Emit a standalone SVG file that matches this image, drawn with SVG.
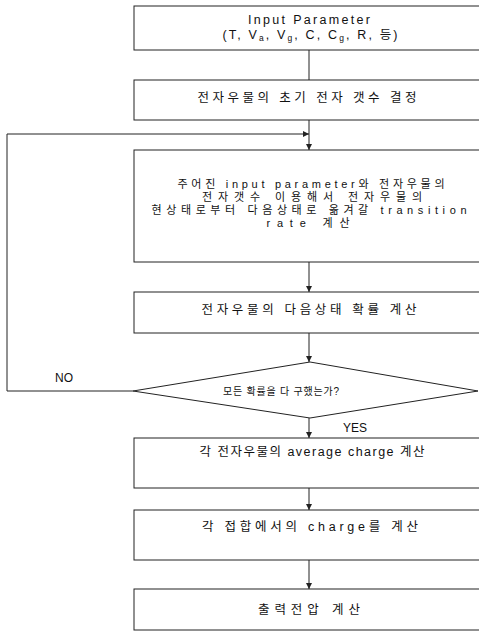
<svg xmlns="http://www.w3.org/2000/svg" width="479" height="632" viewBox="0 0 479 632">
<style>
.box{fill:#fff;stroke:#222;stroke-width:1}
.ln{fill:none;stroke:#222;stroke-width:1}
.t{font-family:"Liberation Sans","Noto Sans CJK KR",sans-serif;font-size:12.5px;fill:#111;text-anchor:middle}
.s{font-size:11px}
.d{font-size:10px}
.l{font-family:"Liberation Sans","Noto Sans CJK KR",sans-serif;font-size:12px;fill:#111}
</style>
<defs>
<marker id="ah" markerWidth="8" markerHeight="8" refX="6" refY="3" orient="auto" markerUnits="userSpaceOnUse">
<path d="M0,0 L6,3 L0,6 Z" fill="#222"/>
</marker>
</defs>
<rect width="479" height="632" fill="#fff"/>
<g id="connectors">
<path class="ln" d="M309,50 V80"/>
<path class="ln" d="M309,120 V150" marker-end="url(#ah)"/>
<path class="ln" d="M133,391 H7 V134 H309" marker-end="url(#ah)"/>
<path class="ln" d="M309,262 V292" marker-end="url(#ah)"/>
<path class="ln" d="M309,333 V362" marker-end="url(#ah)"/>
<path class="ln" d="M309,418 V438" marker-end="url(#ah)"/>
<path class="ln" d="M309,488 V510" marker-end="url(#ah)"/>
<path class="ln" d="M309,560 V589" marker-end="url(#ah)"/>
<text class="l" x="55" y="382">NO</text>
<text class="l" x="343" y="432">YES</text>
</g>
<g id="n1">
<rect class="box" x="134" y="6" width="346" height="44"/>
<text class="t" x="309" y="24" textLength="122" lengthAdjust="spacing">Input Parameter</text>
<text class="t" x="310" y="39" textLength="175" lengthAdjust="spacing">(T, V<tspan font-size="8.5" dy="2">a</tspan><tspan dy="-2">, V</tspan><tspan font-size="8.5" dy="2">g</tspan><tspan dy="-2">, C, C</tspan><tspan font-size="8.5" dy="2">g</tspan><tspan dy="-2">, R, 등)</tspan></text>
</g>
<g id="n2">
<rect class="box" x="134" y="80" width="346" height="40"/>
<text class="t" x="307" y="102" textLength="219" lengthAdjust="spacing">전자우물의 초기 전자 갯수 결정</text>
</g>
<g id="n3">
<rect class="box" x="134" y="150" width="346" height="112"/>
<text class="t s" x="311" y="188" textLength="267" lengthAdjust="spacing">주어진 input parameter와 전자우물의</text>
<text class="t s" x="312" y="201" textLength="220" lengthAdjust="spacing">전자갯수 이용해서 전자우물의</text>
<text class="t s" x="309" y="214" textLength="315" lengthAdjust="spacing">현상태로부터 다음상태로 옮겨갈 transition</text>
<text class="t s" x="308" y="227" textLength="83" lengthAdjust="spacing">rate 계산</text>
</g>
<g id="n4">
<rect class="box" x="134" y="292" width="346" height="41"/>
<text class="t" x="309" y="314" textLength="215" lengthAdjust="spacing">전자우물의 다음상태 확률 계산</text>
</g>
<g id="n5">
<polygon class="box" points="310,362 478,391 310,418 133,391"/>
<text class="t d" x="281" y="395" textLength="116" lengthAdjust="spacing">모든 확률을 다 구했는가?</text>
</g>
<g id="n6">
<rect class="box" x="134" y="438" width="346" height="50"/>
<text class="t" x="312" y="456" textLength="225" lengthAdjust="spacing">각 전자우물의 average charge 계산</text>
</g>
<g id="n7">
<rect class="box" x="134" y="510" width="346" height="50"/>
<text class="t" x="310" y="531" textLength="216" lengthAdjust="spacing">각 접합에서의 charge를 계산</text>
</g>
<g id="n8">
<rect class="box" x="134" y="589" width="346" height="41"/>
<text class="t" x="309" y="614" textLength="102" lengthAdjust="spacing">출력전압 계산</text>
</g>
</svg>
